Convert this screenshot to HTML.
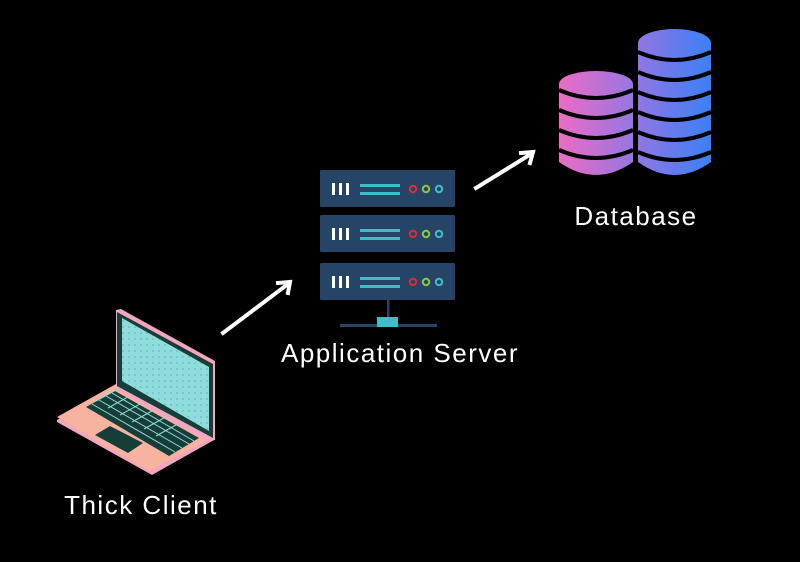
<!DOCTYPE html>
<html><head><meta charset="utf-8"><style>
html,body{margin:0;padding:0;background:#000;}
svg{display:block}
text{font-family:"Liberation Sans",sans-serif;font-size:26px;letter-spacing:1.5px;fill:#fff}
</style></head><body>
<svg width="800" height="562" viewBox="0 0 800 562" xmlns="http://www.w3.org/2000/svg">
<defs>
<linearGradient id="g" x1="559" y1="0" x2="711" y2="0" gradientUnits="userSpaceOnUse">
<stop offset="0" stop-color="#ec6cc4"/><stop offset="0.5" stop-color="#9476e2"/><stop offset="1" stop-color="#3a80f6"/>
</linearGradient>
<pattern id="dots" width="6" height="6" patternUnits="userSpaceOnUse"><rect width="6" height="6" fill="#8fdcdc"/><circle cx="3" cy="3" r="0.7" fill="#5aa8a8"/></pattern>
</defs>
<rect width="800" height="562" fill="#000"/>

<!-- Database -->
<g fill="url(#g)">
<path d="M559 84 L559 162 Q596 188 633 162 L633 84 Z"/>
<ellipse cx="596" cy="84" rx="37" ry="13"/>
<path d="M638 43 L638 162 Q674.5 188 711 162 L711 43 Z"/>
<ellipse cx="674.5" cy="43" rx="36.5" ry="14"/>
</g>
<g fill="none" stroke="#000" stroke-width="4">
<path d="M559 90 Q596 106 633 90"/><path d="M559 110 Q596 126 633 110"/><path d="M559 130 Q596 146 633 130"/><path d="M559 150 Q596 166 633 150"/>
<path d="M638 52 Q674.5 68 711 52"/><path d="M638 72 Q674.5 88 711 72"/><path d="M638 92 Q674.5 108 711 92"/><path d="M638 112 Q674.5 128 711 112"/><path d="M638 132 Q674.5 148 711 132"/><path d="M638 152 Q674.5 168 711 152"/>
</g>
<text x="636" y="225" text-anchor="middle">Database</text>

<!-- Server -->
<g>
<rect x="320" y="170" width="135" height="37" rx="1.5" fill="#264466"/>
<rect x="320" y="215" width="135" height="37" rx="1.5" fill="#264466"/>
<rect x="320" y="263" width="135" height="37" rx="1.5" fill="#264466"/>
<g id="row">
<rect x="332" y="183" width="3" height="12" fill="#fff"/><rect x="339" y="183" width="3" height="12" fill="#fff"/><rect x="346" y="183" width="3" height="12" fill="#fff"/>
<rect x="360" y="184" width="40" height="3" fill="#3bbfc9"/><rect x="360" y="192" width="40" height="3" fill="#3bbfc9"/>
<circle cx="413" cy="189" r="3.2" fill="none" stroke="#e02a3a" stroke-width="2"/>
<circle cx="426" cy="189" r="3.2" fill="none" stroke="#8cc63f" stroke-width="2"/>
<circle cx="439" cy="189" r="3.2" fill="none" stroke="#3bbfc9" stroke-width="2"/>
</g>
<use href="#row" y="45"/>
<use href="#row" y="93"/>
<rect x="387" y="300" width="2.5" height="18" fill="#264466"/>
<rect x="340" y="324" width="97" height="3" fill="#264466"/>
<rect x="377" y="317" width="21" height="10" fill="#3bbfc9"/>
</g>
<text x="400" y="362" text-anchor="middle">Application Server</text>

<!-- Arrows -->
<g stroke="#fff" stroke-width="4" fill="none" stroke-linecap="square">
<path d="M223 333 L288 284"/><path d="M278 283 L290 282 L288 293"/>
<path d="M476 188 L531 154"/><path d="M521 153 L533 152 L530 163"/>
</g>

<!-- Laptop -->
<g>
<polygon points="57,420 116,387 214,440 152,475 57,422" fill="#f4a6c0"/>
<polygon points="57,417 116,384 213,437 150,471" fill="#f7b2a0"/>
<polygon points="86,407 115,391 199,438 169,456" fill="#173d38"/>
<g stroke="#8fdcdc" stroke-width="1">
<path d="M92 404 L175 452 M99 400 L182 448 M106 396 L189 444 M112 393 L194 441"/>
<path d="M96 401 L125 385 M108 408 L137 392 M120 415 L149 399 M132 422 L161 406 M144 429 L173 413 M156 436 L185 420"/>
</g>
<polygon points="95,435 110,426 143,443 128,453" fill="#173d38"/>
<polygon points="116,310 121,309 215,361 215,440 208,442 116,389" fill="#f4a6c0"/>
<polygon points="117,312 213,364 213,438 117,386" fill="#173d38"/>
<polygon points="122,318 209,367 209,431 122,381" fill="url(#dots)"/>
</g>
<text x="141" y="514" text-anchor="middle">Thick Client</text>
</svg>
</body></html>
